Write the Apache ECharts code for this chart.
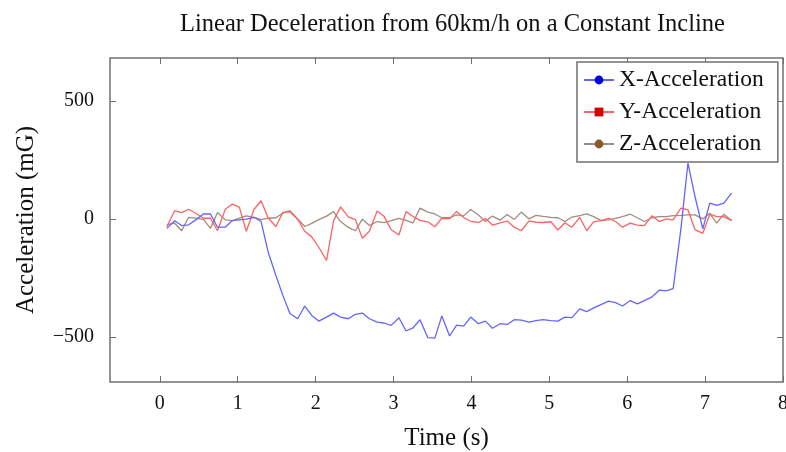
<!DOCTYPE html>
<html><head><meta charset="utf-8">
<script src="https://cdn.jsdelivr.net/npm/echarts@6/dist/echarts.min.js"></script>
<style>html,body{margin:0;padding:0;background:#fff}#c{width:786px;height:452px}</style>
</head><body><div id="c"></div>
<script>
const time = [0.09,0.19,0.28,0.37,0.46,0.56,0.65,0.74,0.84,0.93,1.02,1.11,1.21,1.30,1.39,1.49,1.58,1.67,1.77,1.86,1.95,2.04,2.14,2.23,2.32,2.42,2.51,2.60,2.69,2.79,2.88,2.97,3.07,3.16,3.25,3.34,3.44,3.53,3.62,3.72,3.81,3.90,3.99,4.09,4.18,4.27,4.37,4.46,4.55,4.64,4.74,4.83,4.92,5.02,5.11,5.20,5.29,5.39,5.48,5.57,5.67,5.76,5.85,5.94,6.04,6.13,6.22,6.32,6.41,6.50,6.59,6.69,6.78,6.87,6.97,7.06,7.15,7.24,7.34];
const xAccel = [-40,-8,-28,-25,-4,21,21,-35,-35,-7,-4,-1,7,-11,-140,-240,-325,-401,-423,-369,-409,-433,-416,-399,-416,-423,-404,-399,-423,-437,-441,-451,-419,-475,-462,-427,-503,-505,-411,-496,-450,-454,-416,-444,-433,-463,-444,-447,-427,-429,-437,-431,-427,-431,-433,-416,-418,-381,-393,-377,-362,-348,-355,-369,-346,-360,-346,-330,-302,-305,-295,-40,237,95,-42,67,57,67,109];
const yAccel = [-33,35,27,41,24,3,3,-50,41,63,50,-52,41,77,4,-32,28,30,-2,-52,-76,-120,-176,-8,51,9,-3,-82,-52,34,10,-46,-68,31,10,-6,-12,-33,3,1,32,6,-10,-15,2,-26,-17,-9,-35,-50,-8,-14,-15,-12,-47,-16,-35,7,-50,-11,-7,3,-11,-35,-18,-26,-28,14,-11,0,-4,46,38,-45,-61,20,10,10,-7];
const zAccel = [-24,-18,-50,7,3,-2,-40,27,-4,-7,3,13,7,-3,3,5,25,35,0,-32,-19,-3,12,31,-11,-36,-50,-1,-28,-11,-16,-7,2,-6,-17,46,29,21,5,5,17,13,40,17,-11,12,-5,19,-2,29,0,15,11,7,5,-11,8,14,21,10,-7,-4,2,10,20,5,-11,5,10,10,14,15,17,17,0,24,-18,20,-7];
const seriesNames = ['X-Acceleration','Y-Acceleration','Z-Acceleration'];
const xTicks = [0,1,2,3,4,5,6,7,8];
const yTicks = [-500,0,500];
const titleText = 'Linear Deceleration from 60km/h on a Constant Incline';
const xName = 'Time (s)';
const yName = 'Acceleration (mG)';

const FONT = 'Liberation Serif';
const AX = '#707070';
const pairs = arr => time.map((t, i) => [t, arr[i]]);
const chart = echarts.init(document.getElementById('c'), null, {renderer: 'canvas'});
const tickStyle = {show: true, inside: true, length: 6, lineStyle: {color: AX, width: 1}};
const hiddenLine = {show: false, onZero: false};
const xMin = -0.64, xMax = 8.0, yMin = -691, yMax = 682;
chart.setOption({
  animation: false,
  backgroundColor: '#fff',
  title: {text: titleText, left: 175, top: 7,
    textStyle: {fontFamily: FONT, fontSize: 24.5, fontWeight: 'normal', color: '#111'}},
  grid: {left: 110, right: 3, top: 58, bottom: 70, outerBoundsMode: 'none', containLabel: false,
    show: true, borderColor: AX, borderWidth: 1.5, backgroundColor: 'transparent'},
  legend: {
    orient: 'vertical', left: 577, top: 62,
    data: seriesNames,
    backgroundColor: '#fff', borderColor: AX, borderWidth: 1.5, borderRadius: 0,
    padding: [6, 14, 6, 6], itemGap: 8, itemWidth: 30, itemHeight: 11,
    textStyle: {fontFamily: FONT, fontSize: 23.5, color: '#111'}
  },
  xAxis: [{
    type: 'value', min: xMin, max: xMax, position: 'bottom',
    name: xName, nameLocation: 'middle', nameGap: 44,
    nameTextStyle: {fontFamily: FONT, fontSize: 25, color: '#111'},
    axisLine: hiddenLine, splitLine: {show: false},
    axisTick: Object.assign({customValues: xTicks}, tickStyle),
    axisLabel: {customValues: xTicks, margin: 12, fontFamily: FONT, fontSize: 20, color: '#111',
      formatter: v => String(v).replace('-', '\u2212')}
  }, {
    type: 'value', min: xMin, max: xMax, position: 'top',
    axisLine: hiddenLine, splitLine: {show: false}, axisLabel: {show: false},
    axisTick: Object.assign({customValues: xTicks}, tickStyle)
  }],
  yAxis: [{
    type: 'value', min: yMin, max: yMax, position: 'left',
    name: yName, nameLocation: 'middle', nameGap: 71, nameRotate: 90,
    nameTextStyle: {fontFamily: FONT, fontSize: 25, color: '#111'},
    axisLine: hiddenLine, splitLine: {show: false},
    axisTick: Object.assign({customValues: yTicks}, tickStyle),
    axisLabel: {customValues: yTicks, margin: 16, fontFamily: FONT, fontSize: 20, color: '#111',
      formatter: v => String(v).replace('-', '\u2212')}
  }, {
    type: 'value', min: yMin, max: yMax, position: 'right',
    axisLine: hiddenLine, splitLine: {show: false}, axisLabel: {show: false},
    axisTick: Object.assign({customValues: yTicks}, tickStyle)
  }],
  series: [
    {name: seriesNames[0], type: 'line', data: pairs(xAccel), symbol: 'circle', symbolSize: 8, showSymbol: false,
      lineStyle: {color: '#6464ff', width: 1.3}, itemStyle: {color: '#0000e0'}, z: 3},
    {name: seriesNames[1], type: 'line', data: pairs(yAccel), symbol: 'rect', symbolSize: 8, showSymbol: false,
      lineStyle: {color: '#ff6262', width: 1.3}, itemStyle: {color: '#d00000'}, z: 2},
    {name: seriesNames[2], type: 'line', data: pairs(zAccel), symbol: 'circle', symbolSize: 8, showSymbol: false,
      lineStyle: {color: '#a08c7c', width: 1.3}, itemStyle: {color: '#8a5a2e'}, z: 1}
  ]
});
</script></body></html>
